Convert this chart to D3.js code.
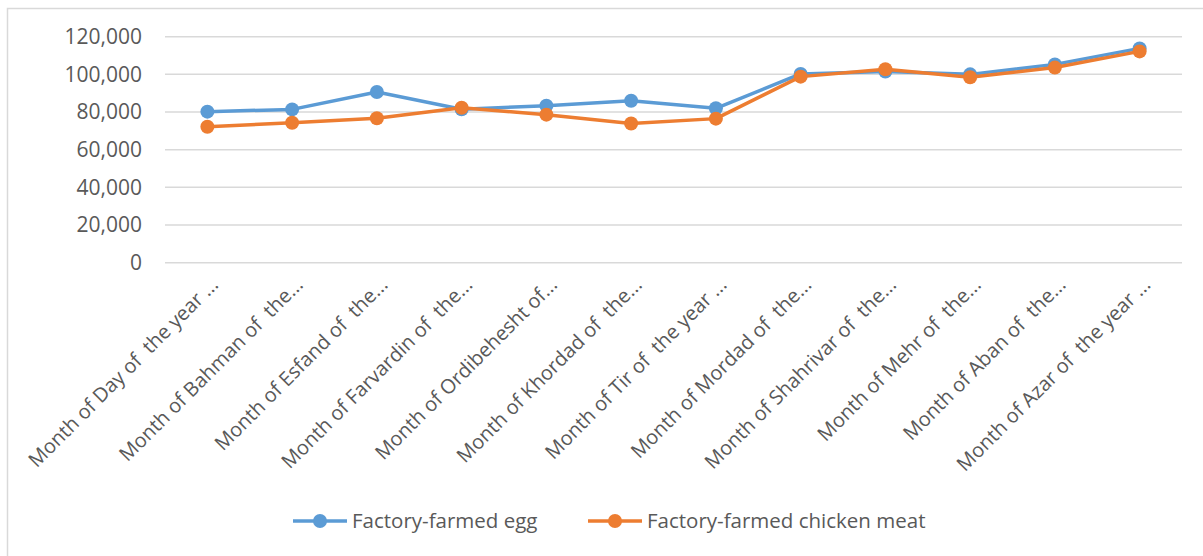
<!DOCTYPE html>
<html><head><meta charset="utf-8">
<script src="https://cdn.jsdelivr.net/npm/d3@7"></script>
<style>
body{margin:0;background:#fff;}
text{font-family:"Open Sans",sans-serif;fill:#595959;white-space:pre;}
</style></head>
<body><svg id="c" width="1203" height="556"></svg>
<script>
const categories = ["Month of Day of  the year ...","Month of Bahman of  the...","Month of Esfand of  the...","Month of Farvardin of  the...","Month of Ordibehesht of...","Month of Khordad of  the...","Month of Tir of  the year ...","Month of Mordad of  the...","Month of Shahrivar of  the...","Month of Mehr of  the...","Month of Aban of  the...","Month of Azar of  the year ..."];
const eggValues = [80200, 81400, 90600, 81500, 83300, 86000, 82000, 100200, 101500, 100000, 105300, 113800];
const chickenValues = [72200, 74300, 76700, 82300, 78600, 73900, 76500, 98800, 102700, 98500, 103600, 112200];
const seriesNames = ["Factory-farmed egg", "Factory-farmed chicken meat"];
const yTicks = [0, 20000, 40000, 60000, 80000, 100000, 120000];
const colors = ["#5B9BD5", "#ED7D31"];

const svg = d3.select("#c");
svg.append("path").attr("d","M7.5,560 V8.5 H1210").attr("fill","none").attr("stroke","#D9D9D9").attr("stroke-width",1.5);

const x = d3.scaleBand().domain(categories).range([165, 1182]);
const y = d3.scaleLinear().domain([0, 120000]).range([262.7, 36.7]);

const g = svg.append("g");
g.selectAll("line.grid").data(yTicks).join("line")
  .attr("x1",165).attr("x2",1182)
  .attr("y1",d=>y(d)).attr("y2",d=>y(d))
  .attr("stroke","#D9D9D9").attr("stroke-width",1.5);

const fmt = d3.format(",");
g.selectAll("text.yt").data(yTicks).join("text")
  .attr("x",142).attr("y",d=>y(d)).attr("dy","0.35em")
  .attr("text-anchor","end").style("font-size","21px").text(d=>fmt(d));

g.selectAll("text.xt").data(categories).join("text")
  .attr("text-anchor","end").style("font-size","20px")
  .attr("xml:space","preserve")
  .attr("transform",d=>`translate(${x(d)+x.bandwidth()/2+12},${286}) rotate(-45)`)
  .text(d=>d);

const series = [eggValues, chickenValues];
const line = d3.line().x((d,i)=>x(categories[i])+x.bandwidth()/2).y(d=>y(d));
series.forEach((vals,si)=>{
  g.append("path").datum(vals).attr("d",line).attr("fill","none")
    .attr("stroke",colors[si]).attr("stroke-width",3.5).attr("stroke-linejoin","round");
  g.selectAll(null).data(vals).join("circle")
    .attr("cx",(d,i)=>x(categories[i])+x.bandwidth()/2).attr("cy",d=>y(d))
    .attr("r",7).attr("fill",colors[si]);
});

const legX = [293, 588];
const legY = 521;
seriesNames.forEach((n,i)=>{
  const lg = svg.append("g");
  lg.append("line").attr("x1",legX[i]).attr("x2",legX[i]+54).attr("y1",legY).attr("y2",legY)
    .attr("stroke",colors[i]).attr("stroke-width",3.5);
  lg.append("circle").attr("cx",legX[i]+27).attr("cy",legY).attr("r",7).attr("fill",colors[i]);
  lg.append("text").attr("x",legX[i]+59).attr("y",legY).attr("dy","0.35em").style("font-size","20.5px").text(n);
});
</script></body></html>
